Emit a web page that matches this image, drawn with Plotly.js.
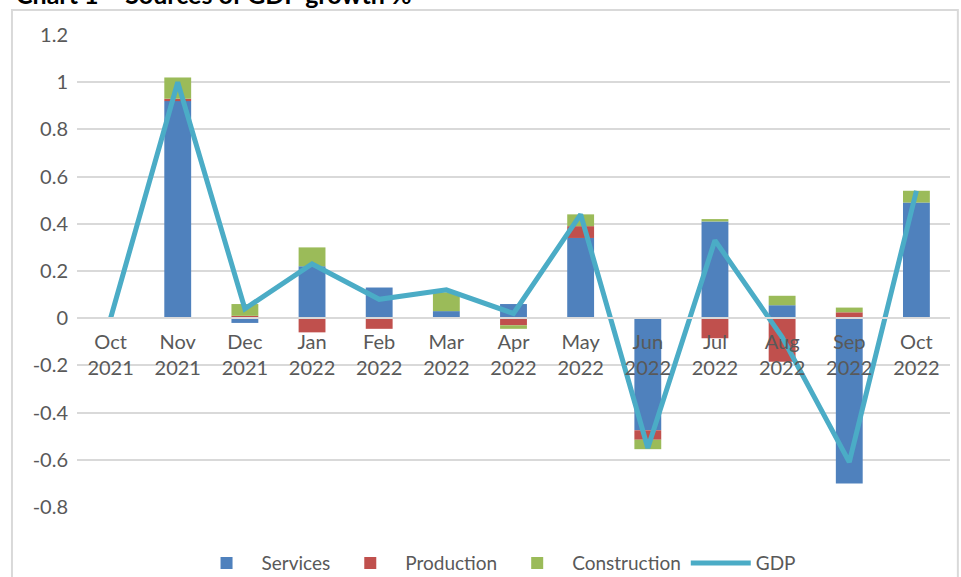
<!DOCTYPE html>
<html>
<head>
<meta charset="utf-8">
<script src="https://cdn.plot.ly/plotly-3.0.1.min.js"></script>
<style>html,body{margin:0;padding:0;background:#fff;}#chart{width:961px;height:577px;}</style>
</head>
<body>
<div id="chart"></div>
<script>
const categories = ["Oct<br>2021","Nov<br>2021","Dec<br>2021","Jan<br>2022","Feb<br>2022","Mar<br>2022","Apr<br>2022","May<br>2022","Jun<br>2022","Jul<br>2022","Aug<br>2022","Sep<br>2022","Oct<br>2022"];
const services     = [0, 0.92, -0.02, 0.22, 0.13, 0.03, 0.06, 0.34, -0.475, 0.41, 0.055, -0.70, 0.49];
const production   = [0, 0.01, 0.01, -0.06, -0.045, 0, -0.03, 0.05, -0.04, -0.085, -0.185, 0.025, 0];
const construction = [0.004, 0.09, 0.05, 0.08, 0, 0.08, -0.015, 0.05, -0.04, 0.01, 0.04, 0.02, 0.05];
const gdp          = [0, 1.0, 0.04, 0.23, 0.08, 0.12, 0.02, 0.44, -0.55, 0.33, -0.08, -0.61, 0.54];
const yTicks = [-0.8, -0.6, -0.4, -0.2, 0, 0.2, 0.4, 0.6, 0.8, 1, 1.2];
const yTickText = ["-0.8","-0.6","-0.4","-0.2","0","0.2","0.4","0.6","0.8","1","1.2"];
const titleText = "Chart 1 – Sources of GDP growth %";

const FONT = "Lato, 'Open Sans', sans-serif";
const traces = [
  {type:'bar', name:'Services', x:categories, y:services, marker:{color:'#4F81BD'}, width:0.4},
  {type:'bar', name:'Production', x:categories, y:production, marker:{color:'#C0504D'}, width:0.4},
  {type:'bar', name:'Construction', x:categories, y:construction, marker:{color:'#9BBB59'}, width:0.4},
  {type:'scatter', mode:'lines', name:'GDP', x:categories, y:gdp, line:{color:'#4BACC6', width:5}}
];
const layout = {
  width:961, height:577,
  margin:{l:77, r:11, t:35, b:70, autoexpand:false},
  paper_bgcolor:'#fff', plot_bgcolor:'#fff',
  barmode:'relative',
  font:{family:FONT, color:'#595959', size:20},
  showlegend:true,
  legend:{orientation:'h', x:0.48, xanchor:'center', y:-0.119, yanchor:'middle', traceorder:'normal', font:{size:19, color:'#595959'}, itemwidth:60},
  xaxis:{type:'category', anchor:'free', position:0.4, showline:true, linecolor:'#D9D9D9', linewidth:2, ticks:'', showgrid:false, tickfont:{size:20, color:'#595959'}, tickangle:0, ticklabelstandoff:6},
  yaxis:{range:[-0.8,1.2], tickvals:yTicks, ticktext:yTickText, showgrid:true, gridcolor:'#D9D9D9', gridwidth:2, zeroline:false, ticks:'', tickfont:{size:20, color:'#595959'}, ticklabelstandoff:8},
  shapes:[{type:'rect', xref:'paper', yref:'paper', x0:-0.0745, x1:1.009, y0:-0.2, y1:1.053, line:{color:'#D9D9D9', width:2}, fillcolor:'rgba(0,0,0,0)', layer:'below'}],
  annotations:[{text:'<b>'+titleText+'</b>', xref:'paper', yref:'paper', x:-0.072, xanchor:'left', y:1.05, yanchor:'bottom', showarrow:false, font:{size:25, color:'#000', family:FONT}}]
};
Plotly.newPlot('chart', traces, layout, {displayModeBar:false, staticPlot:true});
</script>
</body>
</html>
